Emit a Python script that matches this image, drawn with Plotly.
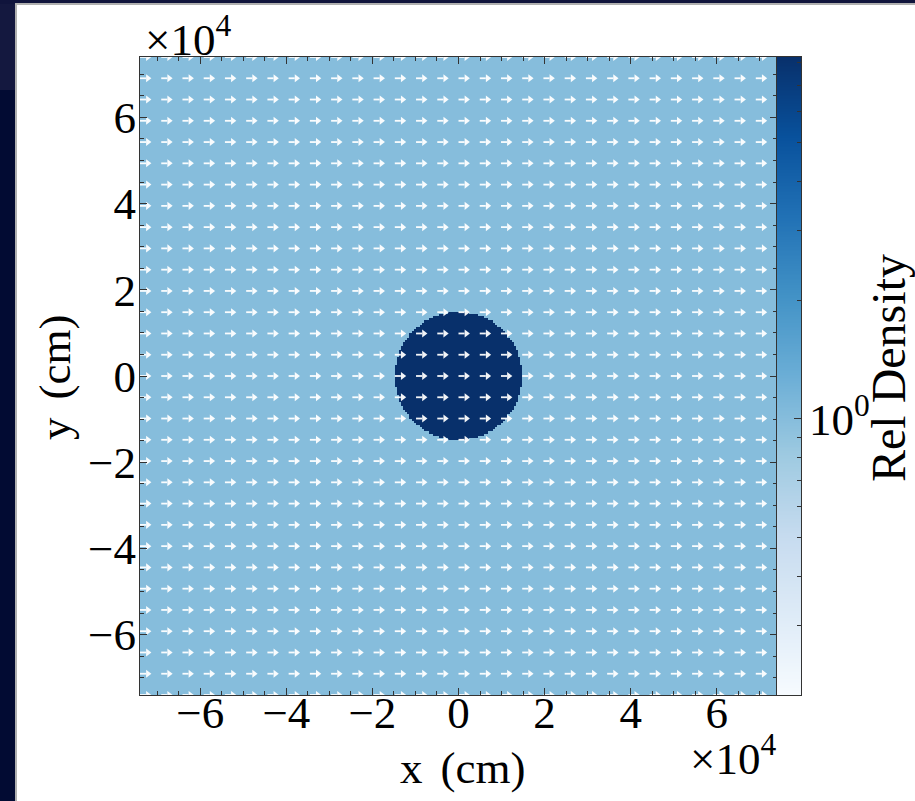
import numpy as np
import plotly.graph_objects as go

# ---------------- data ----------------
DOMAIN_HALF_WIDTH_CM = 7.4e4          # x and y run from -L to +L
CLOUD_RADIUS_CM = 1.48e4
CLOUD_CENTER_CM = (0.0, 0.0)
BACKGROUND_DENSITY = 1.0
CLOUD_DENSITY = 8.25
DENSITY_MIN = 0.2
DENSITY_MAX = 8.25
GRID_CELLS = 300                      # density image resolution
N_ARROWS = 31                         # quiver grid points per axis
FLOW_U = 1.0                          # uniform velocity, x component
FLOW_V = 0.0                          # uniform velocity, y component

TICK_VALUES = [-6e4, -4e4, -2e4, 0.0, 2e4, 4e4, 6e4]
TICK_LABELS = ["\u22126", "\u22124", "\u22122", "0", "2", "4", "6"]
MINOR_TICK_VALUES = [k * 0.5e4 for k in range(-14, 15) if k % 4 != 0]
CBAR_TICK_VALUES = [1.0]
CBAR_TICK_LABELS = ["10<sup>0</sup>"]
CBAR_MINOR_VALUES = [0.2, 0.3, 0.4, 0.5, 0.6, 0.7, 0.8, 0.9, 2, 3, 4, 5, 6, 7, 8]

BLUES = ["#f7fbff", "#deebf7", "#c6dbef", "#9ecae1", "#6baed6",
         "#4292c6", "#2171b5", "#08519c", "#08306b"]

# ---------------- layout geometry ----------------
W, H = 915, 801
ML, MR, MT, MB = 140, 114, 57, 106
PW, PH = W - ML - MR, H - MT - MB
MAIN_RIGHT_PX = 777


def px_x(px):
    return (px - ML) / PW


def px_y(py):
    return (H - MB - py) / PH


FONT = "Liberation Serif, Times New Roman, serif"
AXCOL = "#333333"

# ---------------- fields ----------------
L = DOMAIN_HALF_WIDTH_CM
xc = np.linspace(-L, L, GRID_CELLS)
yc = np.linspace(-L, L, GRID_CELLS)
XX, YY = np.meshgrid(xc, yc)
rr = np.hypot(XX - CLOUD_CENTER_CM[0], YY - CLOUD_CENTER_CM[1])
density = np.where(rr <= CLOUD_RADIUS_CM, CLOUD_DENSITY, BACKGROUND_DENSITY)

zmin, zmax = np.log10(DENSITY_MIN), np.log10(DENSITY_MAX)
colorscale = [[i / (len(BLUES) - 1), c] for i, c in enumerate(BLUES)]

fig = go.Figure()
fig.add_trace(go.Heatmap(
    x=xc, y=yc, z=np.log10(density), colorscale=colorscale,
    zmin=zmin, zmax=zmax, showscale=False, hoverinfo="skip",
    xaxis="x", yaxis="y"))

# quiver arrows (tail at grid point, matplotlib style)
ag = np.linspace(-L, L, N_ARROWS)
AX, AY = np.meshgrid(ag, ag)
U = np.full_like(AX, FLOW_U)
V = np.full_like(AY, FLOW_V)
ARROW_SCALE = 0.235e4  # data units per unit velocity
sx, sy = [], []
hx, hy = [], []
for x0, y0, u, v in zip(AX.ravel(), AY.ravel(), U.ravel(), V.ravel()):
    x1 = x0 + 0.6 * ARROW_SCALE * u
    y1 = y0 + 0.6 * ARROW_SCALE * v
    sx += [x0, x1, None]
    sy += [y0, y1, None]
    hx.append(x0 + 0.78 * ARROW_SCALE * u)
    hy.append(y0 + 0.78 * ARROW_SCALE * v)

fig.add_trace(go.Scatter(x=sx, y=sy, mode="lines",
                         line=dict(color="rgba(255,255,255,0.95)", width=1.8),
                         hoverinfo="skip", showlegend=False, xaxis="x", yaxis="y"))
fig.add_trace(go.Scatter(x=hx, y=hy, mode="markers",
                         marker=dict(symbol="triangle-right", size=7,
                                     color="rgba(255,255,255,0.95)", line=dict(width=0)),
                         hoverinfo="skip", showlegend=False, cliponaxis=True,
                         xaxis="x", yaxis="y"))

# colorbar drawn as a gradient heatmap on its own axes (log10 units)
cb_y = np.linspace(zmin, zmax, 400)
fig.add_trace(go.Heatmap(
    x=[0.5], y=cb_y, z=cb_y.reshape(-1, 1), colorscale=colorscale,
    zmin=zmin, zmax=zmax, showscale=False, hoverinfo="skip",
    xaxis="x2", yaxis="y2"))

main_dom = [0, px_x(MAIN_RIGHT_PX)]
cb_dom = [px_x(MAIN_RIGHT_PX), 1]

axis_common = dict(
    showgrid=False, zeroline=False, showline=True, linecolor=AXCOL, linewidth=1,
    mirror="ticks", ticks="inside", ticklen=7, tickwidth=1, tickcolor=AXCOL,
    tickvals=TICK_VALUES, ticktext=TICK_LABELS,
    tickfont=dict(family=FONT, size=45, color="black"),
    minor=dict(tickvals=MINOR_TICK_VALUES, ticks="inside", ticklen=4,
               tickcolor=AXCOL, tickwidth=1),
    range=[-L, L], fixedrange=True,
)

fig.update_layout(
    width=W, height=H,
    margin=dict(l=ML, r=MR, t=MT, b=MB, pad=0),
    paper_bgcolor="#020b33",
    plot_bgcolor="rgba(0,0,0,0)",
    showlegend=False,
    xaxis=dict(domain=main_dom, anchor="y", ticklabelstandoff=-22, **axis_common),
    yaxis=dict(domain=[0, 1], anchor="x", ticklabelstandoff=-6, **axis_common),
    xaxis2=dict(domain=cb_dom, anchor="y2", range=[0, 1], showgrid=False,
                zeroline=False, showticklabels=False, ticks="",
                showline=True, linecolor=AXCOL, mirror=True, fixedrange=True),
    yaxis2=dict(domain=[0, 1], anchor="x2", side="right", range=[zmin, zmax],
                showgrid=False, zeroline=False, showline=True, linecolor=AXCOL,
                mirror=True, ticks="inside", ticklen=7, tickcolor=AXCOL,
                tickvals=[np.log10(v) for v in CBAR_TICK_VALUES],
                ticktext=CBAR_TICK_LABELS, ticklabelstandoff=-2,
                tickfont=dict(family=FONT, size=45, color="black"),
                minor=dict(tickvals=[np.log10(v) for v in CBAR_MINOR_VALUES],
                           ticks="inside", ticklen=4, tickcolor=AXCOL),
                fixedrange=True),
    shapes=[
        # slide frame
        dict(type="rect", xref="paper", yref="paper",
             x0=px_x(0), x1=px_x(16), y0=px_y(0), y1=px_y(90),
             fillcolor="#14183f", line=dict(width=0), layer="below"),
        dict(type="rect", xref="paper", yref="paper",
             x0=px_x(0), x1=px_x(W), y0=px_y(0), y1=px_y(4),
             fillcolor="#10143c", line=dict(width=0), layer="below"),
        dict(type="rect", xref="paper", yref="paper",
             x0=px_x(16), x1=px_x(W + 5), y0=px_y(4), y1=px_y(H + 5),
             fillcolor="white", line=dict(color="#b0b0b0", width=2), layer="below"),
    ],
)

ann_font = dict(family=FONT, size=45, color="black")
fig.add_annotation(text="\u00d710<sup>4</sup>", xref="paper", yref="paper",
                   x=px_x(143), y=px_y(36), xanchor="left", yanchor="middle",
                   showarrow=False, font=ann_font)
fig.add_annotation(text="\u00d710<sup>4</sup>", xref="paper", yref="paper",
                   x=px_x(778), y=px_y(755), xanchor="right", yanchor="middle",
                   showarrow=False, font=ann_font)
fig.add_annotation(text="x\u2009\u2009(cm)", xref="paper", yref="paper",
                   x=px_x(462), y=px_y(768), xanchor="center", yanchor="middle",
                   showarrow=False, font=ann_font)
fig.add_annotation(text="y\u2009\u2009(cm)", xref="paper", yref="paper",
                   x=px_x(55), y=px_y(378), xanchor="center", yanchor="middle",
                   textangle=-90, showarrow=False, font=ann_font)
fig.add_annotation(text="Rel Density", xref="paper", yref="paper",
                   x=px_x(888), y=px_y(368), xanchor="center", yanchor="middle",
                   textangle=-90, showarrow=False,
                   font=dict(family=FONT, size=48, color="black"))

fig.write_html("out.html", config={"displayModeBar": False},
               post_script="document.body.style.margin='0';")
